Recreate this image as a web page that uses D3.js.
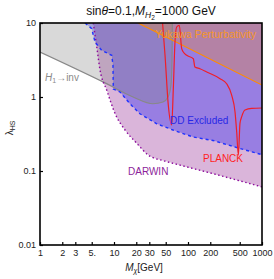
<!DOCTYPE html>
<html lang="en">
<head>
<meta charset="utf-8">
<title>Dark matter constraints</title>
<script src="https://d3js.org/d3.v7.min.js"></script>
<style>
body { margin: 0; background: #fff; }
text { font-family: "Liberation Sans", Arial, sans-serif; }
</style>
</head>
<body>
<div id="vis"></div>
<script>
const massTicks = [1, 2, 3, 5, 10, 20, 30, 50, 100, 200, 500, 1000];
const lambdaTicks = [0.01, 0.1, 1, 10];

// H1 -> invisible bound
const invMass = [1, 7.1, 18.1, 33.6, 45.9, 53.7, 58.9, 60.8, 61.5];
const invLambda = [4.05, 1.60, 1.0, 0.81, 0.855, 1.0, 1.45, 3.16, 10];

// direct detection exclusion
const ddMass = [4.06, 5.0, 5.54, 6.82, 9.31, 9.69, 9.79, 12.05, 16.4, 22.4, 37.8, 62.7, 117, 218, 500, 1000];
const ddLambda = [10, 8.37, 5.53, 4.27, 3.66, 2.70, 1.28, 1.17, 0.812, 0.594, 0.435, 0.358, 0.288, 0.258, 0.202, 0.166];

// DARWIN projection
const darwinMass = [5.25, 5.84, 6.47, 7.97, 10.3, 14.1, 20.3, 29.1, 48.9, 78, 218, 1000];
const darwinLambda = [10, 4.79, 2.32, 1.24, 0.602, 0.358, 0.237, 0.164, 0.136, 0.120, 0.092, 0.061];

// Yukawa perturbativity
const yukMass = [21.1, 1000];
const yukLambda = [10, 1.45];

// relic density (PLANCK)
const planckMass = [45, 48.9, 54.2, 60.2, 63.3, 66.7, 70.3, 76.3, 82.2, 86.4, 96, 118, 124, 145, 179, 271, 333, 390, 432, 455, 479, 504, 532, 589, 726, 1000];
const planckLambda = [11, 3.70, 0.773, 0.419, 1.29, 5.53, 8.83, 9.31, 4.50, 4.06, 3.66, 3.29, 2.54, 2.41, 2.18, 1.77, 1.51, 1.05, 0.627, 0.337, 0.164, 0.441, 0.542, 0.667, 0.703, 0.71];

const width = 274, height = 279;
const padL = 40, padR = 262, padT = 23, padB = 245;

const x = d3.scaleLog().domain([1, 1000]).range([padL, padR]);
const y = d3.scaleLog().domain([0.01, 10]).range([padB, padT]);

const zip = (ms, ls) => ms.map((m, i) => ({m: m, l: ls[i]}));

const svg = d3.select("#vis")
    .append("svg")
    .attr("width", width)
    .attr("height", height);

svg.append("clipPath").attr("id", "plot")
   .append("rect")
   .attr("x", padL).attr("y", padT)
   .attr("width", padR - padL).attr("height", padB - padT);

const g = svg.append("g").attr("clip-path", "url(#plot)");

const areaAbove = curve => d3.area()
    .x(d => x(d.m))
    .y0(y(10))
    .y1(d => y(d.l))
    .curve(curve);

const lineOf = curve => d3.line()
    .x(d => x(d.m))
    .y(d => y(d.l))
    .curve(curve);

// fills
g.append("path")
 .attr("d", areaAbove(d3.curveMonotoneX)(zip(darwinMass, darwinLambda)))
 .attr("fill", "rgb(128,0,128)").attr("fill-opacity", 0.29);

g.append("path")
 .attr("d", areaAbove(d3.curveLinear)(zip(ddMass, ddLambda)))
 .attr("fill", "rgb(0,0,245)").attr("fill-opacity", 0.3);

g.append("path")
 .attr("d", areaAbove(d3.curveMonotoneX)(zip(invMass, invLambda)))
 .attr("fill", "rgb(128,128,128)").attr("fill-opacity", 0.3);

g.append("path")
 .attr("d", areaAbove(d3.curveLinear)(zip(yukMass, yukLambda)))
 .attr("fill", "rgb(255,140,0)").attr("fill-opacity", 0.27);

// boundaries
g.append("path")
 .attr("d", lineOf(d3.curveMonotoneX)(zip(invMass, invLambda)))
 .attr("fill", "none").attr("stroke", "#888").attr("stroke-width", 1.2);

g.append("path")
 .attr("d", lineOf(d3.curveMonotoneX)(zip(darwinMass, darwinLambda)))
 .attr("fill", "none").attr("stroke", "#8b0a9b").attr("stroke-width", 1.4)
 .attr("stroke-dasharray", "1.5,2.5");

g.append("path")
 .attr("d", lineOf(d3.curveLinear)(zip(ddMass, ddLambda)))
 .attr("fill", "none").attr("stroke", "#1e32ff").attr("stroke-width", 1.4)
 .attr("stroke-dasharray", "3,3");

g.append("path")
 .attr("d", lineOf(d3.curveLinear)(zip(yukMass, yukLambda)))
 .attr("fill", "none").attr("stroke", "#ff8c00").attr("stroke-width", 1.2);

g.append("path")
 .attr("d", lineOf(d3.curveMonotoneX)(zip(planckMass, planckLambda)))
 .attr("fill", "none").attr("stroke", "#f01e28").attr("stroke-width", 1.2);

// labels in plot
const lab = svg.append("g").attr("font-size", 10);

lab.append("text").attr("x", 155).attr("y", 38)
   .attr("fill", "#f5962a").attr("font-size", 10.5)
   .text("Yukawa Perturbativity");

const inv = lab.append("text").attr("x", 45).attr("y", 81).attr("fill", "#8a8a8a");
inv.append("tspan").attr("font-style", "italic").text("H");
inv.append("tspan").attr("font-size", 7).attr("dy", 2).text("1");
inv.append("tspan").attr("dy", -2).text("\u2192inv");

lab.append("text").attr("x", 170).attr("y", 124)
   .attr("fill", "#2828e6").text("DD Excluded");

lab.append("text").attr("x", 203).attr("y", 162)
   .attr("fill", "#ff1e1e").text("PLANCK");

lab.append("text").attr("x", 128).attr("y", 175)
   .attr("fill", "#8c1e9a").text("DARWIN");

// axes
const xAxis = d3.axisBottom(x)
    .tickValues(massTicks)
    .tickFormat(d => d === 5 ? "5." : String(d))
    .tickSizeInner(-3).tickSizeOuter(0).tickPadding(5);

const yAxis = d3.axisLeft(y)
    .tickValues(lambdaTicks)
    .tickFormat(d => String(d))
    .tickSizeInner(-3).tickSizeOuter(0).tickPadding(4);

svg.append("g").attr("transform", "translate(0," + padB + ")")
   .call(xAxis)
   .call(a => a.select(".domain").remove())
   .call(a => a.selectAll("text").attr("font-size", 9).attr("fill", "#222"));

svg.append("g").attr("transform", "translate(" + padL + ",0)")
   .call(yAxis)
   .call(a => a.select(".domain").remove())
   .call(a => a.selectAll("text").attr("font-size", 9).attr("fill", "#222"));

svg.selectAll(".tick line").attr("stroke", "#000").attr("stroke-width", 1.2);
svg.selectAll(".tick text").attr("font-family", "Liberation Sans, Arial, sans-serif");

svg.append("rect")
   .attr("x", padL).attr("y", padT)
   .attr("width", padR - padL).attr("height", padB - padT)
   .attr("fill", "none").attr("stroke", "#000").attr("stroke-width", 1.6);

// title
const title = svg.append("text")
   .attr("x", width / 2 + 14).attr("y", 15)
   .attr("text-anchor", "middle").attr("font-size", 12).attr("fill", "#111");
title.append("tspan").text("sin");
title.append("tspan").attr("font-style", "italic").text("\u03b8");
title.append("tspan").text("=0.1,");
title.append("tspan").attr("font-style", "italic").text("M");
title.append("tspan").attr("font-style", "italic").attr("font-size", 8.5).attr("dy", 3).text("H");
title.append("tspan").attr("font-size", 6.5).attr("dy", 2).text("2");
title.append("tspan").attr("dy", -5).text("=1000 GeV");

// axis titles
const xl = svg.append("text")
   .attr("x", 144).attr("y", 271)
   .attr("text-anchor", "middle").attr("font-size", 10).attr("fill", "#222");
xl.append("tspan").attr("font-style", "italic").text("M");
xl.append("tspan").attr("font-style", "italic").attr("font-size", 7).attr("dy", 2).text("\u03c7");
xl.append("tspan").attr("dy", -2).text("[GeV]");

const yl = svg.append("text")
   .attr("transform", "translate(13,128) rotate(-90)")
   .attr("text-anchor", "middle").attr("font-size", 10).attr("fill", "#222");
yl.append("tspan").text("\u03bb");
yl.append("tspan").attr("font-size", 7).attr("dy", 2).text("HS");
</script>
</body>
</html>
